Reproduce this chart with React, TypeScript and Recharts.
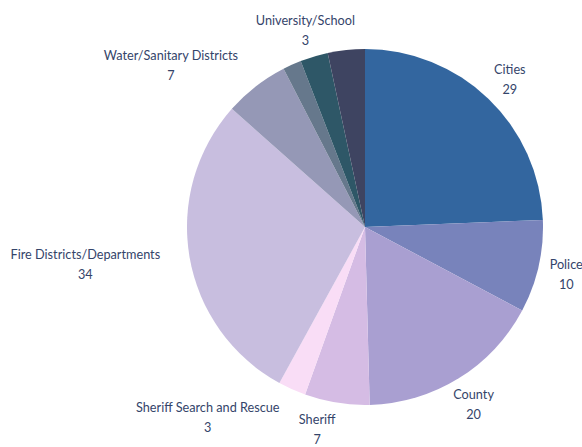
import { PieChart, Pie, Cell } from "recharts";

// slices, clockwise from 12 o'clock
const categories = [
  "Cities",
  "Police",
  "County",
  "Sheriff",
  "Sheriff Search and Rescue",
  "Fire Districts/Departments",
  "Water/Sanitary Districts",
  "",
  "University/School",
  "",
];
const counts = [29, 10, 20, 7, 3, 34, 7, 2, 3, 4];
const colors = [
  "#33669f",
  "#7883bb",
  "#a99fd1",
  "#d5bce4",
  "#f9ddf6",
  "#c8bedf",
  "#9598b6",
  "#66788c",
  "#2e5767",
  "#3e4461",
];

// small hand nudges, Excel "best fit" style label placement
const labelNudge: Record<string, [number, number]> = {
  Cities: [-6, 7],
  Police: [-11, -1],
  County: [-6, -6],
  Sheriff: [-13, -10],
  "Sheriff Search and Rescue": [-45, -6],
  "Fire Districts/Departments": [-7, 0],
  "Water/Sanitary Districts": [-28, 8],
  "University/School": [12, 9],
};

const data = categories.map((name, i) => ({ name, value: counts[i] }));

const RAD = Math.PI / 180;

function renderLabel(props: any) {
  const { cx, cy, midAngle, outerRadius, name, value } = props;
  if (!name) return null;
  // recharts angles: counter-clockwise from 3 o'clock
  const dx = Math.cos(-midAngle * RAD);
  const dy = Math.sin(-midAngle * RAD);
  const r = outerRadius + 22;
  const w = name.length * 5.9;
  const [nx, ny] = labelNudge[name] || [0, 0];
  const x = cx + dx * r + (dx * w) / 2 + nx;
  const y = cy + dy * r + dy * 15 + ny;
  return (
    <g>
      <text x={x} y={y - 10} textAnchor="middle" dominantBaseline="central" fill="#34446a" fontSize={12.7}>
        {name}
      </text>
      <text x={x} y={y + 10} textAnchor="middle" dominantBaseline="central" fill="#34446a" fontSize={12.7}>
        {value}
      </text>
    </g>
  );
}

export default function App() {
  return (
    <div style={{ position: "absolute", left: 0, top: 0, background: "#fff", fontFamily: "Lato, 'Open Sans', sans-serif" }}>
      <PieChart width={582} height={447} margin={{ top: 0, right: 0, bottom: 0, left: 0 }}>
        <Pie
          data={data}
          dataKey="value"
          nameKey="name"
          cx={365}
          cy={227}
          outerRadius={178}
          startAngle={90}
          endAngle={-270}
          stroke="none"
          label={renderLabel}
          labelLine={false}
          isAnimationActive={false}
        >
          {data.map((entry, i) => (
            <Cell key={`cell-${i}`} fill={colors[i]} />
          ))}
        </Pie>
      </PieChart>
    </div>
  );
}
